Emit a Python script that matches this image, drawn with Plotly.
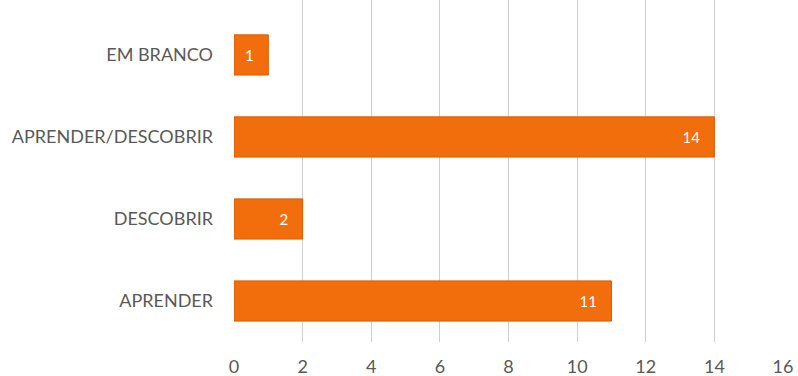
import plotly.graph_objects as go

# Response categories (bottom to top) and their counts
categories = ["APRENDER", "DESCOBRIR", "APRENDER/DESCOBRIR", "EM BRANCO"]
counts = [11, 2, 14, 1]
x_ticks = [0, 2, 4, 6, 8, 10, 12, 14, 16]

fig = go.Figure(
    go.Bar(
        x=counts,
        y=categories,
        orientation="h",
        width=0.49,
        marker=dict(color="#F26E0C", line=dict(color="#D95C00", width=1)),
        texttemplate="%{x}\u00a0\u00a0\u00a0",
        textposition="inside",
        insidetextanchor="end",
        textfont=dict(color="white", size=15, family="Lato"),
        cliponaxis=False,
    )
)

fig.update_layout(
    width=798,
    height=376,
    margin=dict(l=234, r=15, t=0, b=34),
    paper_bgcolor="white",
    plot_bgcolor="white",
    showlegend=False,
    font=dict(family="Lato", size=18, color="#595959"),
    xaxis=dict(
        range=[0, 16],
        tickvals=x_ticks,
        ticktext=[str(t) for t in x_ticks],
        showgrid=True,
        gridcolor="#CFCFCF",
        gridwidth=1,
        zeroline=False,
        showline=False,
        ticks="",
        ticklabelstandoff=12,
        tickfont=dict(size=18, color="#595959"),
    ),
    yaxis=dict(
        range=[-0.5, 3.67],
        showgrid=False,
        zeroline=False,
        showline=False,
        ticks="",
        ticklabelstandoff=20,
        tickfont=dict(size=18, color="#595959"),
    ),
)

fig.write_html("out.html")
